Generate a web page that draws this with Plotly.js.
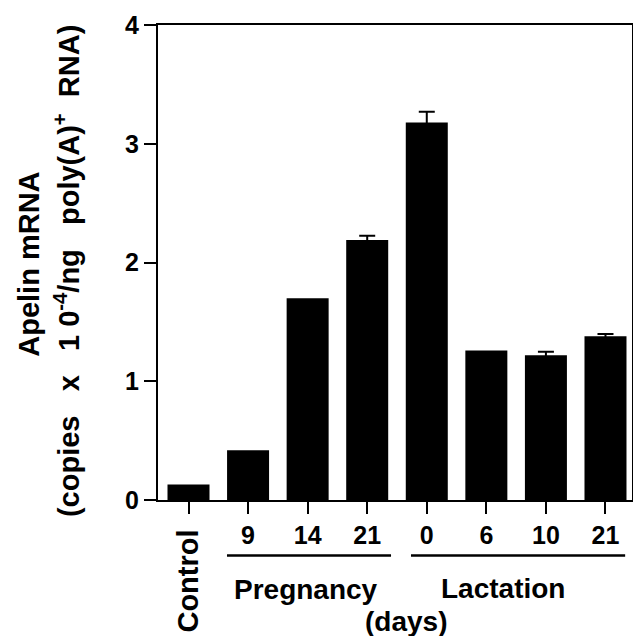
<!DOCTYPE html>
<html>
<head>
<meta charset="utf-8">
<script src="https://cdn.plot.ly/plotly-3.0.1.min.js"></script>
<style>html,body{margin:0;padding:0;background:#fff;}#chart{width:633px;height:636px;}</style>
</head>
<body>
<div id="chart"></div>
<script>
// Data
const categories = ['Control', '9', '14', '21', '0', '6', '10', '21'];
const groups = ['Control', 'Pregnancy', 'Pregnancy', 'Pregnancy', 'Lactation', 'Lactation', 'Lactation', 'Lactation'];
const apelinValues = [0.13, 0.42, 1.70, 2.19, 3.18, 1.26, 1.22, 1.38];
const apelinErrors = [NaN, NaN, NaN, 0.035, 0.09, NaN, 0.028, 0.017];
const yTickVals = [0, 1, 2, 3, 4];
const yTickText = ['0', '1', '2', '3', '4'];

const positions = categories.map((c, i) => i);
const tickText = categories.map((c, i) => groups[i] === 'Control' ? '' : c);

const FONT = 'Liberation Sans, Arial, Helvetica, sans-serif';

const trace = {
  type: 'bar',
  x: positions,
  y: apelinValues,
  marker: {color: '#000000', line: {width: 0}},
  width: 0.705,
  error_y: {type: 'data', array: apelinErrors, visible: true, color: '#000', thickness: 2, width: 8},
  hoverinfo: 'skip'
};

const NB = '\u00a0';
const line2 = '(copies' + NB + NB + NB + 'x' + NB + NB + NB + '1' + NB + '0<sup>-4</sup>/ng' + NB + NB + NB + 'poly(A)<sup>+</sup>' + NB + NB + 'RNA)';

const layout = {
  width: 633, height: 636,
  margin: {l: 158, r: 1, t: 25, b: 135.5},
  paper_bgcolor: '#fff', plot_bgcolor: '#fff',
  showlegend: false,
  font: {family: FONT, color: '#000', size: 24, weight: 'bold'},
  xaxis: {
    range: [-0.512, 7.445],
    tickvals: positions, ticktext: tickText,
    ticks: 'outside', ticklen: 12, tickwidth: 2, tickcolor: '#000',
    showline: true, linecolor: '#000', linewidth: 2, mirror: true,
    showgrid: false, zeroline: false,
    tickfont: {family: FONT, size: 25, color: '#000', weight: 'bold'}
  },
  yaxis: {
    range: [0, 4],
    tickvals: yTickVals, ticktext: yTickText,
    ticks: 'outside', ticklen: 12, tickwidth: 2, tickcolor: '#000',
    showline: true, linecolor: '#000', linewidth: 2, mirror: true,
    showgrid: false, zeroline: false,
    tickfont: {family: FONT, size: 25, color: '#000', weight: 'bold'}
  },
  shapes: [
    {type: 'line', xref: 'x', yref: 'paper', x0: 0.646, x1: 3.40, y0: -0.1167, y1: -0.1167, line: {color: '#000', width: 2.5}},
    {type: 'line', xref: 'x', yref: 'paper', x0: 3.735, x1: 7.33, y0: -0.1167, y1: -0.1167, line: {color: '#000', width: 2.5}}
  ],
  annotations: [
    {text: 'Control', xref: 'x', yref: 'paper', x: 0, y: -0.058, textangle: -90, xanchor: 'center', yanchor: 'top', showarrow: false, font: {family: FONT, size: 29, color: '#000', weight: 'bold'}},
    {text: 'Pregnancy', xref: 'x', yref: 'paper', x: 1.97, y: -0.1886, xanchor: 'center', yanchor: 'middle', showarrow: false, font: {family: FONT, size: 28, color: '#000', weight: 'bold'}},
    {text: 'Lactation', xref: 'x', yref: 'paper', x: 5.28, y: -0.1865, xanchor: 'center', yanchor: 'middle', showarrow: false, font: {family: FONT, size: 28, color: '#000', weight: 'bold'}},
    {text: '(days)', xref: 'x', yref: 'paper', x: 3.65, y: -0.2555, xanchor: 'center', yanchor: 'middle', showarrow: false, font: {family: FONT, size: 28, color: '#000', weight: 'bold'}},
    {text: 'Apelin mRNA', xref: 'paper', yref: 'paper', x: -0.2725, y: 0.497, textangle: -90, xanchor: 'center', yanchor: 'middle', showarrow: false, font: {family: FONT, size: 29, color: '#000', weight: 'bold'}},
    {text: line2, xref: 'paper', yref: 'paper', x: -0.1935, y: 0.4826, textangle: -90, xanchor: 'center', yanchor: 'middle', showarrow: false, font: {family: FONT, size: 29, color: '#000', weight: 'bold'}}
  ]
};

Plotly.newPlot('chart', [trace], layout, {displayModeBar: false, staticPlot: true});
</script>
</body>
</html>
